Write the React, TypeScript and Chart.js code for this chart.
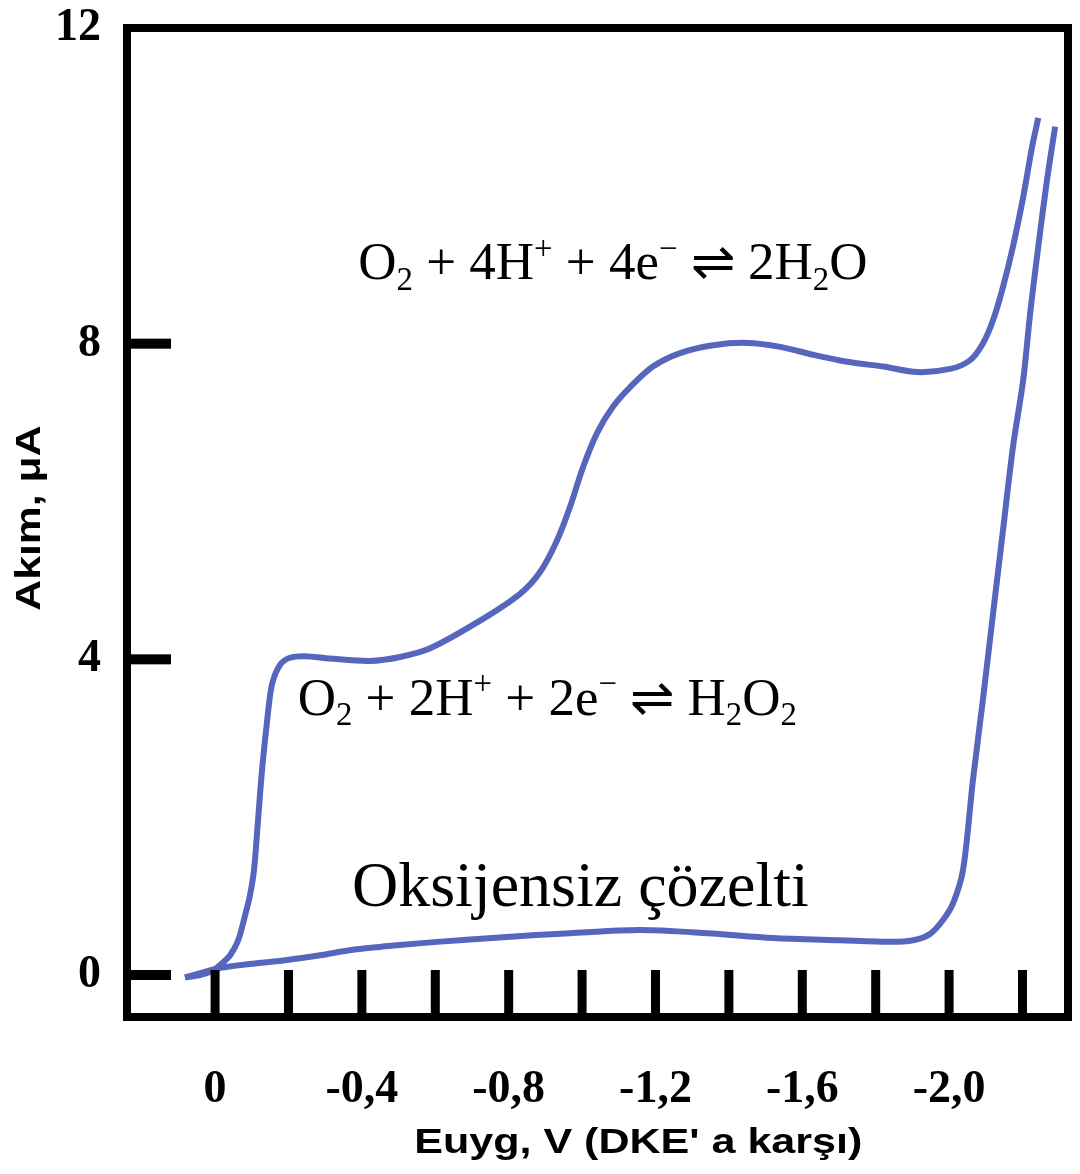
import React, { useEffect, useRef } from 'react';
import { Chart, registerables } from 'chart.js';

Chart.register(...registerables);

// Polarogram of dissolved oxygen (upper trace) and of an oxygen-free solution (lower trace)
const POTENTIAL_O2 = [
  0.082, 0.041, 0.005, -0.019, -0.041, -0.063, -0.082, -0.095, -0.106, -0.117,
  -0.128, -0.142, -0.155, -0.177, -0.204, -0.245, -0.313, -0.422, -0.504, -0.586,
  -0.722, -0.831, -0.886, -0.932, -0.967, -1.003, -1.041, -1.084, -1.131, -1.193,
  -1.267, -1.357, -1.45, -1.54, -1.629, -1.722, -1.82, -1.913, -2.003, -2.057,
  -2.093, -2.12, -2.147, -2.174, -2.202, -2.226, -2.243,
];
const CURRENT_O2 = [
  -0.03, 0.0, 0.06, 0.15, 0.25, 0.44, 0.76, 1.01, 1.33, 1.96,
  2.6, 3.23, 3.68, 3.93, 4.02, 4.04, 4.01, 3.98, 4.03, 4.14,
  4.49, 4.83, 5.11, 5.51, 5.93, 6.44, 6.87, 7.2, 7.45, 7.71,
  7.88, 7.98, 8.01, 7.96, 7.86, 7.77, 7.71, 7.64, 7.68, 7.79,
  8.01, 8.3, 8.72, 9.23, 9.86, 10.49, 10.86,
];

const POTENTIAL_N2 = [
  0.082, -0.014, -0.095, -0.196, -0.286, -0.376, -0.504, -0.605, -0.785, -0.967,
  -1.158, -1.341, -1.52, -1.703, -1.839, -1.902, -1.948, -1.984, -2.011, -2.038,
  -2.065, -2.093, -2.12, -2.147, -2.174, -2.202, -2.221, -2.243, -2.267, -2.289,
];
const CURRENT_N2 = [
  -0.03, 0.09, 0.14, 0.19, 0.25, 0.32, 0.38, 0.42, 0.48, 0.53,
  0.57, 0.53, 0.47, 0.44, 0.42, 0.44, 0.52, 0.7, 0.91, 1.33,
  2.47, 3.52, 4.59, 5.64, 6.69, 7.54, 8.39, 9.23, 10.08, 10.75,
];

const X_TICKS = [0, -0.2, -0.4, -0.6, -0.8, -1.0, -1.2, -1.4, -1.6, -1.8, -2.0, -2.2];
const X_LABELED = [0, -0.4, -0.8, -1.2, -1.6, -2.0];
const Y_TICKS = [0, 4, 8, 12];
const Y_TICK_MARKS = [0, 4, 8];

const X_TITLE = "Euyg, V (DKE' a karşı)";
const Y_TITLE = 'Akım, μA';
const NO_OXYGEN_LABEL = 'Oksijensiz çözelti';

type Seg = { t: string; sub?: boolean; sup?: boolean };
const REACTION_4E: Seg[] = [
  { t: 'O' }, { t: '2', sub: true }, { t: ' + 4H' }, { t: '+', sup: true },
  { t: ' + 4e' }, { t: '−', sup: true }, { t: ' ⇌ 2H' }, { t: '2', sub: true }, { t: 'O' },
];
const REACTION_2E: Seg[] = [
  { t: 'O' }, { t: '2', sub: true }, { t: ' + 2H' }, { t: '+', sup: true },
  { t: ' + 2e' }, { t: '−', sup: true }, { t: ' ⇌ H' }, { t: '2', sub: true }, { t: 'O' },
  { t: '2', sub: true },
];

const LINE_COLOR = 'rgb(86, 102, 188)';
const SERIF = '"Liberation Serif", "Times New Roman", serif';
const SANS = '"Liberation Sans", Arial, sans-serif';

const zip = (xs: number[], ys: number[]) => xs.map((x, i) => ({ x, y: ys[i] }));
const fmtTick = (v: number) => (v === 0 ? '0' : v.toFixed(1).replace('.', ','));

function drawChem(ctx: CanvasRenderingContext2D, segs: Seg[], x: number, y: number, size: number) {
  let cx = x;
  ctx.textAlign = 'left';
  ctx.textBaseline = 'alphabetic';
  for (const s of segs) {
    const small = s.sub || s.sup;
    const fs = small ? size * 0.62 : size;
    ctx.font = `${fs}px ${SERIF}`;
    const dy = s.sub ? size * 0.2 : s.sup ? -size * 0.38 : 0;
    ctx.fillText(s.t, cx, y + dy);
    cx += ctx.measureText(s.t).width;
  }
}

function drawStretched(
  ctx: CanvasRenderingContext2D, text: string, x: number, y: number,
  angle: number, stretch: number, font: string,
) {
  ctx.save();
  ctx.translate(x, y);
  ctx.rotate(angle);
  ctx.scale(stretch, 1);
  ctx.font = font;
  ctx.textAlign = 'center';
  ctx.textBaseline = 'alphabetic';
  ctx.fillText(text, 0, 0);
  ctx.restore();
}

// scales keep no extra room for their end labels, so the plot box sits exactly on the layout padding
const noEdgePadding = (s: any) => {
  s.paddingTop = 0;
  s.paddingBottom = 0;
  s.paddingLeft = 0;
  s.paddingRight = 0;
};

const framePlugin = {
  id: 'polarogramFrame',
  afterDraw(chart: any) {
    const { ctx, chartArea } = chart;
    const { left, right, top, bottom } = chartArea;
    const xs = chart.scales.x;
    const ys = chart.scales.y;
    ctx.save();
    ctx.fillStyle = '#000';
    ctx.strokeStyle = '#000';
    ctx.lineWidth = 8;
    ctx.lineJoin = 'miter';
    ctx.strokeRect(left, top, right - left, bottom - top);

    // inward tick marks
    for (const v of X_TICKS) {
      const px = xs.getPixelForValue(v);
      ctx.fillRect(px - 4.5, bottom - 47, 9, 47);
    }
    for (const v of Y_TICK_MARKS) {
      const py = ys.getPixelForValue(v);
      ctx.fillRect(left, py - 5, 44, 10);
    }

    // reaction labels
    drawChem(ctx, REACTION_4E, xs.getPixelForValue(-0.39), ys.getPixelForValue(8.82), 53);
    drawChem(ctx, REACTION_2E, xs.getPixelForValue(-0.225), ys.getPixelForValue(3.3), 53);

    ctx.font = `64px ${SERIF}`;
    ctx.textAlign = 'left';
    ctx.textBaseline = 'alphabetic';
    ctx.fillText(NO_OXYGEN_LABEL, xs.getPixelForValue(-0.373), ys.getPixelForValue(0.88));

    // axis titles
    drawStretched(ctx, X_TITLE, xs.getPixelForValue(-1.153), bottom + 136, 0, 1.23, `bold 35px ${SANS}`);
    drawStretched(ctx, Y_TITLE, left - 87, ys.getPixelForValue(5.79), -Math.PI / 2, 1.22, `bold 35px ${SANS}`);
    ctx.restore();
  },
};

export default function App() {
  const canvasRef = useRef<HTMLCanvasElement | null>(null);

  useEffect(() => {
    const canvas = canvasRef.current;
    if (!canvas) return;
    const chart = new Chart(canvas, {
      type: 'scatter',
      data: {
        datasets: [
          {
            label: 'O2',
            data: zip(POTENTIAL_O2, CURRENT_O2),
            showLine: true,
            borderColor: LINE_COLOR,
            borderWidth: 6,
            pointRadius: 0,
            tension: 0.3,
            borderCapStyle: 'butt',
          },
          {
            label: 'N2',
            data: zip(POTENTIAL_N2, CURRENT_N2),
            showLine: true,
            borderColor: LINE_COLOR,
            borderWidth: 6,
            pointRadius: 0,
            tension: 0.3,
            borderCapStyle: 'butt',
          },
        ],
      },
      options: {
        animation: false,
        responsive: false,
        devicePixelRatio: 1,
        layout: { padding: { top: 28, right: 12, left: 0, bottom: 0 } },
        plugins: { legend: { display: false }, tooltip: { enabled: false } },
        scales: {
          x: {
            type: 'linear',
            reverse: true,
            min: -2.324,
            max: 0.24,
            afterBuildTicks: (s: any) => { s.ticks = X_TICKS.map((value) => ({ value })); },
            afterFit: (s: any) => { s.height = 157; noEdgePadding(s); },
            grid: { display: false },
            border: { display: false },
            ticks: {
              autoSkip: false,
              maxRotation: 0,
              padding: 38,
              color: '#000',
              font: { family: SERIF, size: 46, weight: 'bold' },
              callback: (v: any) => (X_LABELED.includes(v) ? fmtTick(v) : ''),
            },
          },
          y: {
            type: 'linear',
            min: -0.532,
            max: 12,
            afterBuildTicks: (s: any) => { s.ticks = Y_TICKS.map((value) => ({ value })); },
            afterFit: (s: any) => { s.width = 127; noEdgePadding(s); },
            grid: { display: false },
            border: { display: false },
            ticks: {
              padding: 18,
              color: '#000',
              font: { family: SERIF, size: 46, weight: 'bold' },
              callback: (v: any) => String(v),
            },
          },
        },
      },
      plugins: [framePlugin],
    } as any);
    return () => chart.destroy();
  }, []);

  return (
    <div style={{ position: 'absolute', left: 0, top: 0, width: 1080, height: 1174, background: '#fff' }}>
      <canvas ref={canvasRef} width={1080} height={1174} style={{ display: 'block' }} />
    </div>
  );
}
